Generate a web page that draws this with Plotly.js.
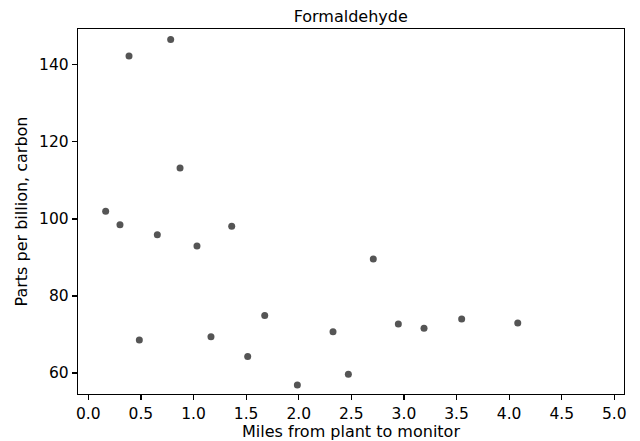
<!DOCTYPE html>
<html>
<head>
<meta charset="utf-8">
<script src="https://cdn.plot.ly/plotly-3.0.1.min.js"></script>
<style>html,body{margin:0;padding:0;background:#fff;}#chart{width:640px;height:441px;}</style>
</head>
<body>
<div id="chart"></div>
<script>
const miles = [0.165, 0.387, 0.783, 0.872, 0.301, 0.656, 1.033, 1.363, 0.485, 1.166, 1.677, 1.515, 1.987, 2.326, 2.472, 2.709, 2.947, 3.191, 3.549, 4.082];
const ppbC = [102.0, 142.3, 146.6, 113.2, 98.5, 95.9, 93.0, 98.1, 68.6, 69.4, 74.9, 64.3, 56.9, 70.7, 59.7, 89.6, 72.7, 71.6, 74.0, 73.0];
const xTicks = [0, 0.5, 1, 1.5, 2, 2.5, 3, 3.5, 4, 4.5, 5];
const xTickText = ['0.0','0.5','1.0','1.5','2.0','2.5','3.0','3.5','4.0','4.5','5.0'];
const yTicks = [60, 80, 100, 120, 140];

const font = {family: 'DejaVu Sans, sans-serif', color: '#000'};
Plotly.newPlot('chart', [{
  x: miles, y: ppbC, type: 'scatter', mode: 'markers',
  marker: {color: '#555555', size: 7}
}], {
  width: 640, height: 441,
  margin: {l: 78, r: 16, t: 29, b: 47},
  paper_bgcolor: '#fff', plot_bgcolor: '#fff',
  showlegend: false,
  title: {text: 'Formaldehyde', font: Object.assign({size: 16}, font), x: 0.548, xanchor: 'center', y: 0.963, yanchor: 'middle'},
  xaxis: {
    range: [-0.098, 5.092], tickvals: xTicks, ticktext: xTickText,
    showgrid: false, zeroline: false, showline: true, linecolor: '#000', linewidth: 1.2, mirror: true,
    ticks: 'outside', ticklen: 5, tickwidth: 1.2, tickcolor: '#000',
    tickfont: Object.assign({size: 15.5}, font),
    title: {text: 'Miles from plant to monitor', font: Object.assign({size: 16}, font), standoff: 2}
  },
  yaxis: {
    range: [54.55, 149.3], tickvals: yTicks,
    showgrid: false, zeroline: false, showline: true, linecolor: '#000', linewidth: 1.2, mirror: true,
    ticks: 'outside', ticklen: 5, tickwidth: 1.2, tickcolor: '#000',
    tickfont: Object.assign({size: 15.5}, font),
    title: {text: 'Parts per billion, carbon', font: Object.assign({size: 16}, font), standoff: 7}
  }
}, {staticPlot: true});
</script>
</body>
</html>
